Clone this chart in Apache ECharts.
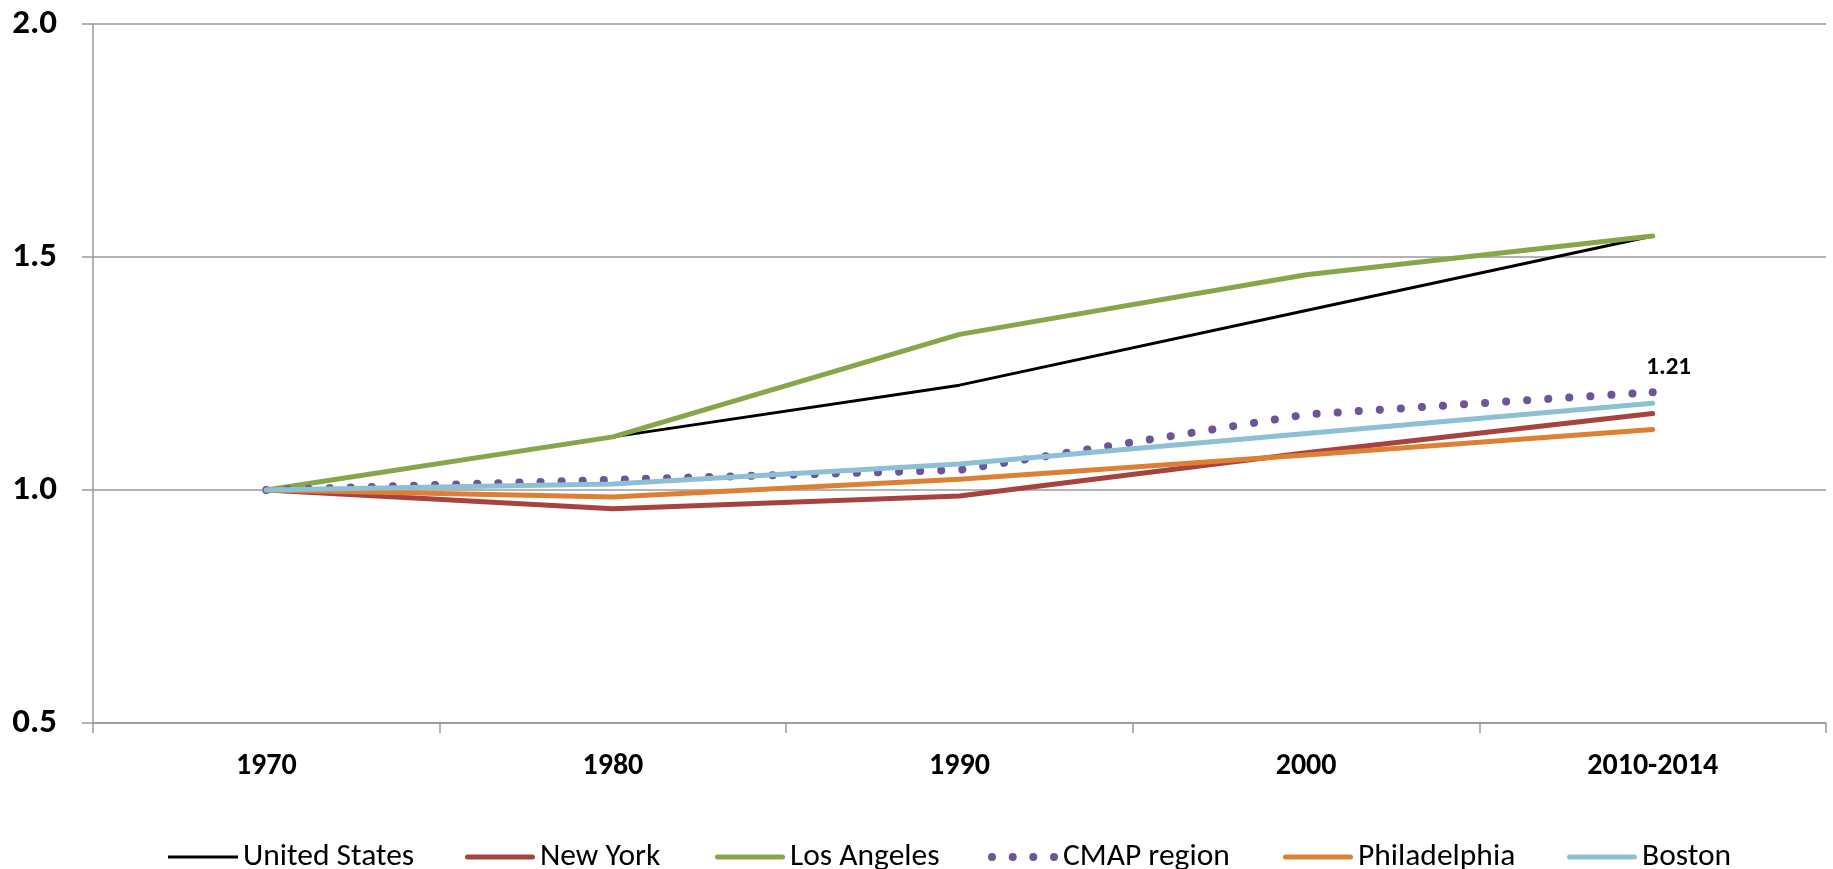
<!DOCTYPE html>
<html>
<head>
<meta charset="utf-8">
<script src="https://cdn.jsdelivr.net/npm/echarts@6/dist/echarts.min.js"></script>
<style>
html,body{margin:0;padding:0;background:#fff;}
#chart{width:1833px;height:869px;}
</style>
</head>
<body>
<div id="chart"></div>
<script>
const categories = ['1970', '1980', '1990', '2000', '2010-2014'];
const unitedStates = [1.0, 1.114, 1.225, 1.385, 1.545];
const newYork = [1.0, 0.960, 0.987, 1.080, 1.164];
const losAngeles = [1.0, 1.114, 1.334, 1.462, 1.545];
const cmapRegion = [1.0, 1.022, 1.043, 1.162, 1.21];
const philadelphia = [1.0, 0.985, 1.023, 1.075, 1.130];
const boston = [1.0, 1.013, 1.056, 1.121, 1.186];
const yTicks = [0.5, 1.0, 1.5, 2.0];
const seriesNames = ['United States', 'New York', 'Los Angeles', 'CMAP region', 'Philadelphia', 'Boston'];
const seriesColors = ['#000000', '#A8423F', '#86A64A', '#6E5596', '#DD8034', '#8CC0D4'];

const FONT = 'Carlito, "Open Sans", sans-serif';

// legend icon shapes (box 70x10, with corner anchor points so scaling keeps thickness)
const ANCH = 'M0,0L0.01,0L0,0.01ZM70,10L69.99,10L70,9.99Z';
const iconThin = 'path://' + ANCH + 'M0,3.6H70V6.4H0Z';
const iconThick = 'path://' + ANCH + 'M2.5,2.5H67.5A2.5,2.5 0 0 1 67.5,7.5H2.5A2.5,2.5 0 0 1 2.5,2.5Z';
function dot(cx) { return 'M' + (cx - 4) + ',5a4,4 0 1,0 8,0a4,4 0 1,0 -8,0Z'; }
const iconDots = 'path://' + ANCH + dot(4) + dot(24.7) + dot(45.3) + dot(66);
const legendIcons = [iconThin, iconThick, iconThick, iconDots, iconThick, iconThick];
const legendLefts = [168, 465, 715, 988, 1283, 1567];

function line(name, data, color, width, extra) {
  return Object.assign({
    name: name,
    type: 'line',
    data: data,
    symbol: 'none',
    lineStyle: { color: color, width: width, cap: 'round', join: 'round' },
    itemStyle: { color: color },
    emphasis: { disabled: true },
    animation: false
  }, extra || {});
}

const cmapData = cmapRegion.map((v, i) => i === cmapRegion.length - 1
  ? { value: v, symbol: 'circle', symbolSize: 8,
      label: { show: true, formatter: () => v.toFixed(2), position: 'top', offset: [16, -3],
        fontFamily: FONT, fontWeight: 'bold', fontSize: 25, color: '#000' } }
  : { value: v, symbol: 'none' });

const legends = seriesNames.map((n, i) => ({
  left: legendLefts[i], top: 841, padding: 0,
  itemWidth: 70, itemHeight: 10,
  selectedMode: false,
  textStyle: { fontFamily: FONT, fontSize: 31.5, color: '#000' },
  data: [{ name: n, icon: legendIcons[i], itemStyle: { color: seriesColors[i] } }]
}));

const chart = echarts.init(document.getElementById('chart'));
chart.setOption({
  backgroundColor: '#fff',
  animation: false,
  grid: { left: 93, right: 7, top: 24, bottom: 146 },
  legend: legends,
  xAxis: {
    type: 'category',
    data: categories,
    boundaryGap: true,
    axisLine: { show: true, lineStyle: { color: '#9a9a9a', width: 1.5 } },
    axisTick: { show: true, length: 10, lineStyle: { color: '#9a9a9a', width: 1.5 } },
    axisLabel: { margin: 28, fontFamily: FONT, fontWeight: 'bold', fontSize: 30, color: '#000' }
  },
  yAxis: {
    type: 'value',
    min: 0.5, max: 2.0, interval: 0.5,
    axisLine: { show: true, lineStyle: { color: '#9a9a9a', width: 1.5 } },
    axisTick: { show: true, length: 11, lineStyle: { color: '#9a9a9a', width: 1.5 } },
    splitLine: { show: true, lineStyle: { color: '#9a9a9a', width: 1.5 } },
    axisLabel: { margin: 36, fontFamily: FONT, fontWeight: 'bold', fontSize: 35, color: '#000',
      formatter: v => yTicks.includes(+v.toFixed(1)) ? v.toFixed(1) : '' }
  },
  series: [
    line(seriesNames[0], unitedStates, seriesColors[0], 3),
    line(seriesNames[1], newYork, seriesColors[1], 5),
    line(seriesNames[2], losAngeles, seriesColors[2], 5),
    line(seriesNames[3], cmapData, seriesColors[3], 8, {
      symbol: 'circle', symbolSize: 8, showSymbol: true,
      lineStyle: { color: seriesColors[3], width: 8, type: [0.1, 21], cap: 'round' }
    }),
    line(seriesNames[4], philadelphia, seriesColors[4], 5),
    line(seriesNames[5], boston, seriesColors[5], 5)
  ]
});
</script>
</body>
</html>
